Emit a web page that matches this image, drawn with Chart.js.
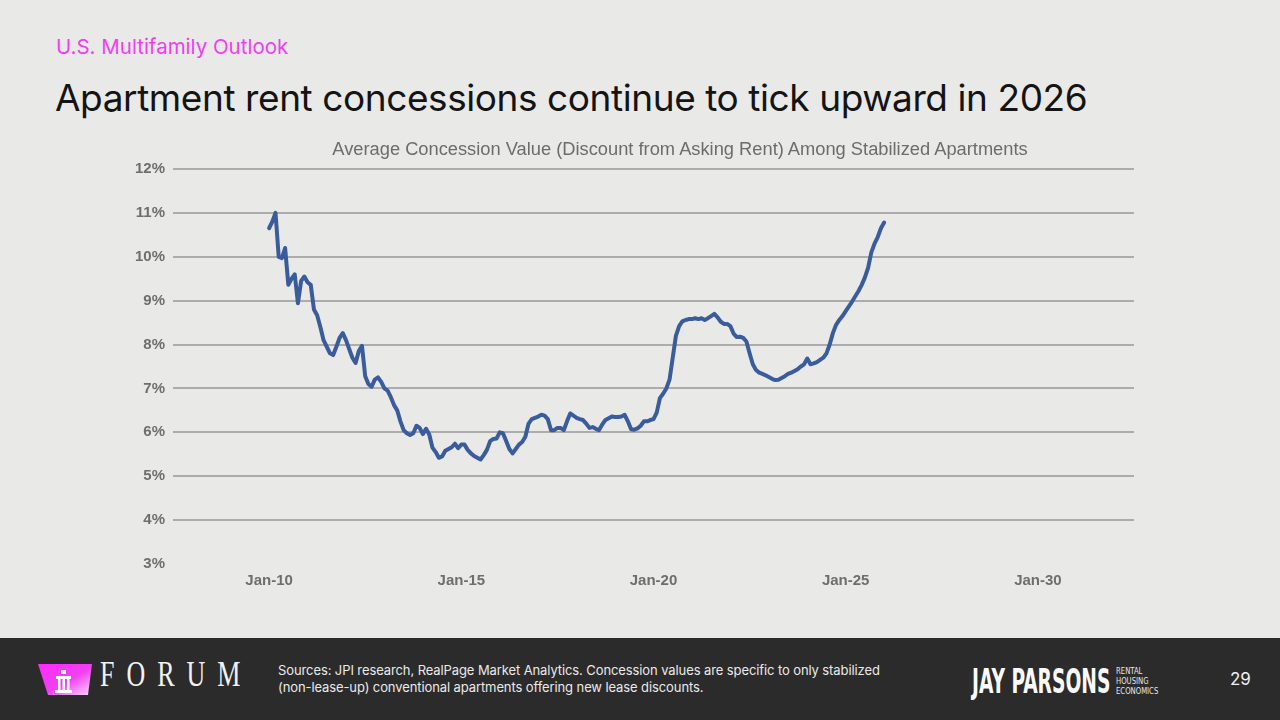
<!DOCTYPE html>
<html>
<head>
<meta charset="utf-8">
<script src="https://cdn.jsdelivr.net/npm/chart.js@4.4.1/dist/chart.umd.min.js"></script>
<style>
  html,body{margin:0;padding:0;}
  body{width:1280px;height:720px;position:relative;overflow:hidden;
       background:#e9e9e8;font-family:Inter,"Noto Sans",sans-serif;}
  #kicker{position:absolute;left:56px;top:34px;font-size:20.5px;color:#f03ef0;white-space:nowrap;letter-spacing:0px;}
  #headline{position:absolute;left:55px;top:75px;font-size:37px;color:#141414;white-space:nowrap;letter-spacing:-0.42px;}
  #ctitle{position:absolute;left:280px;width:800px;top:138px;text-align:center;line-height:22px;
          font-family:"Liberation Sans",Arial,sans-serif;font-size:18.3px;color:#6c6c6c;white-space:nowrap;}
  #chartbox{position:absolute;left:100px;top:130px;width:1160px;height:470px;}
  #footer{position:absolute;left:0;top:638px;width:1280px;height:82px;background:#2b2b2b;}
  #forum{position:absolute;left:100px;top:24px;font-family:"Liberation Serif","DejaVu Serif",serif;
         font-size:26px;line-height:26px;color:#f2f2f2;letter-spacing:12px;white-space:nowrap;
         transform-origin:0 50%;transform:scaleY(1.4);}
  #sources{position:absolute;left:278px;top:24px;font-size:13px;line-height:17px;color:#eaeaea;white-space:nowrap;letter-spacing:-0.1px;}
  #jay{position:absolute;left:972px;top:26px;font-family:"DejaVu Sans Condensed","DejaVu Sans",sans-serif;
       font-weight:bold;font-size:34px;color:#fafafa;white-space:nowrap;transform-origin:0 0;transform:scaleX(0.61);line-height:34px;}
  #rhe{position:absolute;left:1116px;top:28px;font-family:"DejaVu Sans Condensed","DejaVu Sans",sans-serif;
       font-size:9px;line-height:10px;color:#e8e8e8;white-space:nowrap;transform-origin:0 0;transform:scaleX(0.85);}
  #page{position:absolute;left:1230px;top:31px;font-size:17px;color:#f0f0f0;}
</style>
</head>
<body>
<div id="kicker">U.S. Multifamily Outlook</div>
<div id="headline">Apartment rent concessions continue to tick upward in 2026</div>
<div id="chartbox"><canvas id="c" width="1160" height="470"></canvas></div>
<div id="ctitle">Average Concession Value (Discount from Asking Rent) Among Stabilized Apartments</div>
<div id="footer">
  <svg style="position:absolute;left:36px;top:25px" width="60" height="33" viewBox="0 0 60 33">
    <defs>
      <linearGradient id="g" x1="0" y1="0" x2="1" y2="1">
        <stop offset="0" stop-color="#ff2bff"/>
        <stop offset="0.55" stop-color="#f040f0"/>
        <stop offset="1" stop-color="#ffd6ff"/>
      </linearGradient>
    </defs>
    <polygon points="2,1 56,1 52,32 12,32" fill="url(#g)"/>
    <rect x="25" y="7" width="5" height="4" fill="#fff"/>
    <rect x="20" y="13" width="15" height="3" fill="#fff"/>
    <rect x="22" y="16" width="2.5" height="11" fill="#fff"/>
    <rect x="26.5" y="16" width="2.5" height="11" fill="#fff"/>
    <rect x="31" y="16" width="2.5" height="11" fill="#fff"/>
    <rect x="19" y="27" width="17" height="3" fill="#fff"/>
  </svg>
  <div id="forum">FORUM</div>
  <div id="sources">Sources: JPI research, RealPage Market Analytics. Concession values are specific to only stabilized<br>(non-lease-up) conventional apartments offering new lease discounts.</div>
  <div id="jay">JAY PARSONS</div>
  <div id="rhe">RENTAL<br>HOUSING<br>ECONOMICS</div>
  <div id="page">29</div>
</div>
<script>
// Monthly average concession value (% of asking rent), starting Jan 2010
const startYear = 2010;
const concessionPct = [
  // 2010
  10.65, 10.8, 11.0, 10.0, 9.97, 10.2, 9.36, 9.5, 9.6, 8.94, 9.45, 9.55,
  // 2011
  9.42, 9.36, 8.8, 8.67, 8.4, 8.1, 7.95, 7.8, 7.76, 7.95, 8.15, 8.26,
  // 2012
  8.1, 7.9, 7.7, 7.58, 7.85, 7.97, 7.28, 7.1, 7.04, 7.2, 7.25, 7.15,
  // 2013
  7.0, 6.95, 6.8, 6.62, 6.5, 6.25, 6.05, 5.98, 5.94, 5.98, 6.15, 6.1,
  // 2014
  5.96, 6.08, 5.95, 5.65, 5.55, 5.42, 5.45, 5.58, 5.62, 5.66, 5.74, 5.64,
  // 2015
  5.72, 5.72, 5.6, 5.52, 5.46, 5.42, 5.38, 5.48, 5.6, 5.8, 5.85, 5.86,
  // 2016
  6.0, 5.98, 5.8, 5.62, 5.52, 5.62, 5.72, 5.78, 5.9, 6.2, 6.3, 6.33,
  // 2017
  6.36, 6.4, 6.38, 6.3, 6.05, 6.05, 6.1, 6.1, 6.05, 6.25, 6.43, 6.38,
  // 2018
  6.33, 6.3, 6.28, 6.2, 6.1, 6.12, 6.08, 6.05, 6.18, 6.28, 6.32, 6.36,
  // 2019
  6.35, 6.35, 6.36, 6.4, 6.25, 6.07, 6.06, 6.09, 6.15, 6.25, 6.25, 6.28,
  // 2020
  6.3, 6.45, 6.78, 6.88, 7.0, 7.2, 7.7, 8.2, 8.42, 8.53, 8.56, 8.58,
  // 2021
  8.58, 8.6, 8.58, 8.6, 8.56, 8.6, 8.65, 8.7, 8.62, 8.52, 8.47, 8.47,
  // 2022
  8.42, 8.25, 8.17, 8.18, 8.15, 8.07, 7.8, 7.55, 7.42, 7.36, 7.33, 7.3,
  // 2023
  7.26, 7.22, 7.19, 7.2, 7.24, 7.28, 7.33, 7.36, 7.4, 7.44, 7.5, 7.55,
  // 2024
  7.68, 7.55, 7.57, 7.6, 7.65, 7.7, 7.8, 8.0, 8.26, 8.45, 8.56, 8.65,
  // 2025
  8.76, 8.87, 8.98, 9.1, 9.22, 9.36, 9.53, 9.75, 10.1, 10.3, 10.45, 10.65,
  // 2026
  10.78
];
const xTickYears = [2010, 2015, 2020, 2025, 2030];
const xTickLabels = ['Jan-10', 'Jan-15', 'Jan-20', 'Jan-25', 'Jan-30'];
const yTickValues = [3, 4, 5, 6, 7, 8, 9, 10, 11, 12];

const points = concessionPct.map((v, i) => ({ x: startYear + i / 12, y: v }));
const axisFont = { family: '"Liberation Sans", Arial, sans-serif', size: 15, weight: 'bold' };

new Chart(document.getElementById('c'), {
  type: 'line',
  data: {
    datasets: [{
      data: points,
      borderColor: '#3a5c9c',
      borderWidth: 4,
      pointRadius: 0,
      tension: 0,
      borderJoinStyle: 'round',
      borderCapStyle: 'round',
      fill: false
    }]
  },
  options: {
    responsive: false,
    animation: false,
    layout: { padding: { left: 0, right: 126, top: 39, bottom: 6 } },
    plugins: {
      legend: { display: false },
      tooltip: { enabled: false },
      title: { display: false }
    },
    scales: {
      x: {
        type: 'linear',
        min: 2007.5,
        max: 2032.5,
        afterBuildTicks: s => { s.ticks = xTickYears.map(v => ({ value: v })); },
        afterFit: s => { s.height = 30; },
        ticks: {
          autoSkip: false, maxRotation: 0, padding: 8,
          color: '#6e6e6e', font: axisFont,
          callback: v => xTickLabels[xTickYears.indexOf(v)]
        },
        grid: { display: false, drawTicks: false },
        border: { display: false }
      },
      y: {
        min: 3,
        max: 12,
        afterBuildTicks: s => { s.ticks = yTickValues.map(v => ({ value: v })); },
        afterFit: s => { s.width = 73; },
        ticks: {
          padding: 8, color: '#6e6e6e', font: axisFont,
          callback: v => v + '%'
        },
        grid: {
          drawTicks: false,
          lineWidth: 2,
          color: c => (c.tick && c.tick.value === 3) ? 'rgba(0,0,0,0)' : '#acacac'
        },
        border: { display: false }
      }
    }
  }
});
</script>
</body>
</html>
